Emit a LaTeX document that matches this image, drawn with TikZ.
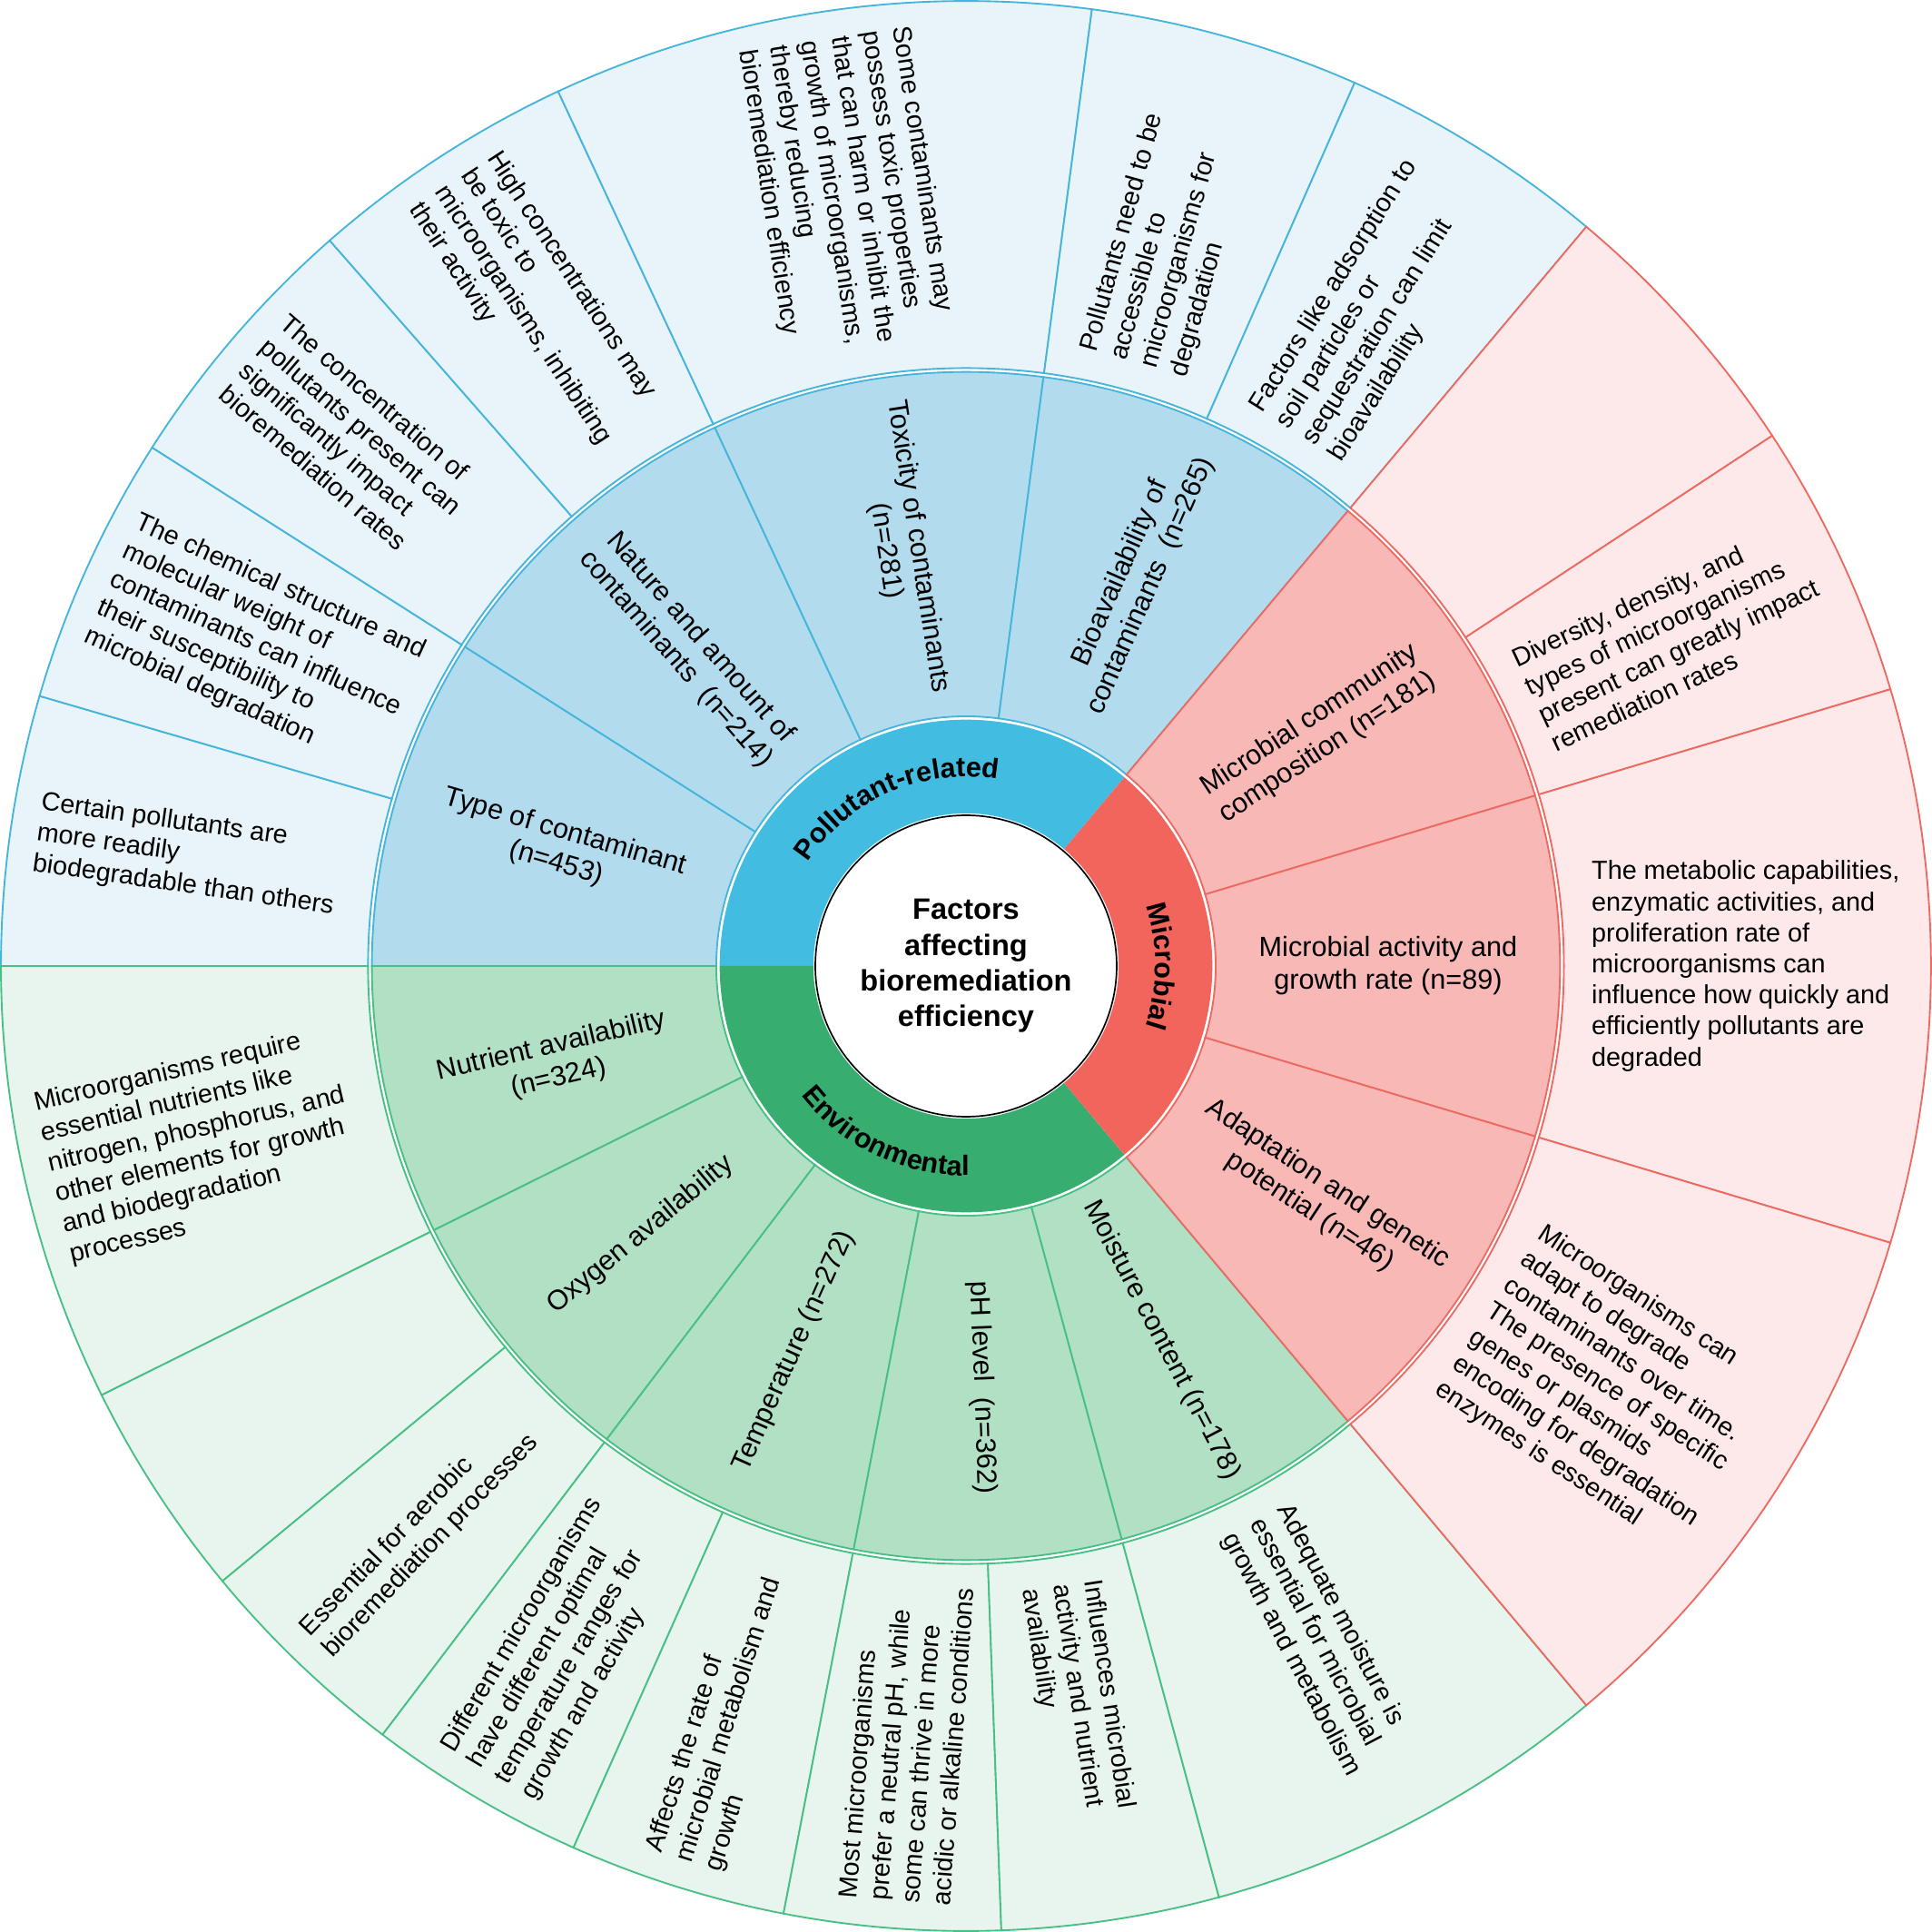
\documentclass[tikz,border=0pt]{standalone}
\usepackage{fontspec}
\setmainfont{Liberation Sans}
\usetikzlibrary{decorations.text}
\definecolor{catP}{HTML}{42BDE1}
\definecolor{midP}{HTML}{B2DCEE}
\definecolor{outP}{HTML}{E8F4F9}
\definecolor{lineP}{HTML}{45B5DB}
\definecolor{catM}{HTML}{F2655C}
\definecolor{midM}{HTML}{F7B8B6}
\definecolor{outM}{HTML}{FDE9E9}
\definecolor{lineM}{HTML}{EC6A62}
\definecolor{catE}{HTML}{37AE6F}
\definecolor{midE}{HTML}{B1E0C5}
\definecolor{outE}{HTML}{E8F5EE}
\definecolor{lineE}{HTML}{48BF85}
\newcommand{\mysector}[6]{%
  \draw[fill=#1, draw=#2, line width=0.5pt] (#3:#5) arc[start angle=#3, end angle=#4, radius=#5] -- (#4:#6) arc[start angle=#4, end angle=#3, radius=#6] -- cycle;}
\newcommand{\myring}[5]{%
  \fill[#1] (#2:#4) arc[start angle=#2, end angle=#3, radius=#4] -- (#3:#5) arc[start angle=#3, end angle=#2, radius=#5] -- cycle;}
\newcommand{\catfont}{\fontsize{8.2}{10}\selectfont\bfseries}
\tikzset{
  midlab/.style={align=center, font=\fontsize{8.2}{9.6}\selectfont, inner sep=0pt},
  outlab/.style={align=left, font=\fontsize{7.7}{9.15}\selectfont, inner sep=0pt, anchor=west},
  cenlab/.style={align=center, font=\fontsize{8.7}{10.5}\selectfont\bfseries, inner sep=0pt}
}
\begin{document}
\begin{tikzpicture}
\useasboundingbox (-10,-10) rectangle (10,10);
\fill[white] (-10,-10) rectangle (10,10);
% ---------- outer ring ----------
% pollutant
\mysector{outP}{lineP}{163.75}{180}{6.19}{9.99}
\mysector{outP}{lineP}{147.5}{163.75}{6.19}{9.99}
\mysector{outP}{lineP}{131.25}{147.5}{6.19}{9.99}
\mysector{outP}{lineP}{115}{131.25}{6.19}{9.99}
\mysector{outP}{lineP}{82.5}{115}{6.19}{9.99}
\mysector{outP}{lineP}{66.25}{82.5}{6.19}{9.99}
\mysector{outP}{lineP}{50}{66.25}{6.19}{9.99}
% environmental
\mysector{outE}{lineE}{180}{206.4}{6.19}{9.99}
\mysector{outE}{lineE}{206.4}{219.6}{6.19}{9.99}
\mysector{outE}{lineE}{219.6}{232.8}{6.19}{9.99}
\mysector{outE}{lineE}{232.8}{246}{6.19}{9.99}
\mysector{outE}{lineE}{246}{259.1}{6.19}{9.99}
\mysector{outE}{lineE}{259.1}{272.1}{6.19}{9.99}
\mysector{outE}{lineE}{272.1}{285.2}{6.19}{9.99}
\mysector{outE}{lineE}{285.2}{310}{6.19}{9.99}
% microbial
\mysector{outM}{lineM}{33.333}{50}{6.19}{9.99}
\mysector{outM}{lineM}{16.667}{33.333}{6.19}{9.99}
\mysector{outM}{lineM}{-16.667}{16.667}{6.19}{9.99}
\mysector{outM}{lineM}{-50}{-16.667}{6.19}{9.99}
% ---------- middle ring ----------
\mysector{midP}{lineP}{147.5}{180}{2.585}{6.15}
\mysector{midP}{lineP}{115}{147.5}{2.585}{6.15}
\mysector{midP}{lineP}{82.5}{115}{2.585}{6.15}
\mysector{midP}{lineP}{50}{82.5}{2.585}{6.15}
\mysector{midE}{lineE}{180}{206.4}{2.585}{6.15}
\mysector{midE}{lineE}{206.4}{232.8}{2.585}{6.15}
\mysector{midE}{lineE}{232.8}{259.1}{2.585}{6.15}
\mysector{midE}{lineE}{259.1}{285.2}{2.585}{6.15}
\mysector{midE}{lineE}{285.2}{310}{2.585}{6.15}
\mysector{midM}{lineM}{16.667}{50}{2.585}{6.15}
\mysector{midM}{lineM}{-16.667}{16.667}{2.585}{6.15}
\mysector{midM}{lineM}{-50}{-16.667}{2.585}{6.15}
% ---------- category ring ----------
\myring{catP}{50}{180}{1.58}{2.55}
\myring{catE}{180}{310}{1.58}{2.55}
\myring{catM}{-50}{50}{1.58}{2.55}
% ---------- centre ----------
\draw[fill=white, draw=black, line width=0.45pt] (0,0) circle[radius=1.56];
\node[cenlab] (centre) at (0,0) {Factors\\affecting\\bioremediation\\efficiency};
% category labels along arcs
\path[decorate, decoration={text along path, text align=center,
  text={|\catfont|Pollutant-related}}] (168.5:1.96) arc[start angle=168.5, end angle=58.5, radius=1.96];
\path[decorate, decoration={text along path, text align=center,
  text={|\catfont|Microbial}}] (55:1.96) arc[start angle=55, end angle=-55, radius=1.96];
\path[decorate, decoration={text along path, text align=center,
  text={|\catfont|Environmental}}] (189.5:2.17) arc[start angle=189.5, end angle=299.5, radius=2.17];
% ---------- middle labels ----------
\node[midlab, rotate=-16.25] (p1) at (163.75:4.37) {Type of contaminant\\(n=453)};
\node[midlab, rotate=-48.75] (p2) at (131.25:4.37) {Nature and amount of\\contaminants~~(n=214)};
\node[midlab, rotate=-81.25] (p3) at (98.75:4.37) {Toxicity of contaminants\\(n=281)};
\node[midlab, rotate=66.25] (p4) at (66.25:4.37) {Bioavailability of\\contaminants~~(n=265)};
\node[midlab, rotate=33.333] (m1) at (33.333:4.37) {Microbial community\\composition (n=181)};
\node[midlab, rotate=0] (m2) at (0:4.37) {Microbial activity and\\growth rate (n=89)};
\node[midlab, rotate=-33.333] (m3) at (-33.333:4.37) {Adaptation and genetic\\potential (n=46)};
\node[midlab, rotate=13.2] (e1) at (193.2:4.37) {Nutrient availability\\(n=324)};
\node[midlab, rotate=39.6] (e2) at (219.6:4.37) {Oxygen availability};
\node[midlab, rotate=65.95] (e3) at (245.95:4.37) {Temperature (n=272)};
\node[midlab, rotate=-87.85] (e4) at (272.15:4.37) {pH level~~(n=362)};
\node[midlab, rotate=-62.4] (e5) at (297.6:4.37) {Moisture content (n=178)};
% ---------- outer labels (line starts near one edge of the ring) ----------
\node[outlab, rotate=-8.125] (o1) at (171.875:9.72) {Certain pollutants are\\more readily\\biodegradable than others};
\node[outlab, rotate=-24.375] (o2) at (155.625:9.72) {The chemical structure and\\molecular weight of\\contaminants can influence\\their susceptibility to\\microbial degradation};
\node[outlab, rotate=-40.625] (o3) at (139.375:9.72) {The concentration of\\pollutants present can\\significantly impact\\bioremediation rates};
\node[outlab, rotate=-56.875] (o4) at (123.125:9.72) {High concentrations may\\be toxic to\\microorganisms, inhibiting\\their activity};
\node[outlab, rotate=-81.25] (o5) at (98.75:9.72) {Some contaminants may\\possess toxic properties\\that can harm or inhibit the\\growth of microorganisms,\\thereby reducing\\bioremediation efficiency};
\node[outlab, rotate=74.375] (o6) at (74.375:6.47) {Pollutants need to be\\accessible to\\microorganisms for\\degradation};
\node[outlab, rotate=58.125] (o7) at (58.125:6.47) {Factors like adsorption to\\soil particles or\\sequestration can limit\\bioavailability};
\node[outlab, rotate=25] (o8) at (25:6.47) {Diversity, density, and\\types of microorganisms\\present can greatly impact\\remediation rates};
\node[outlab, rotate=0] (o9) at (0:6.47) {The metabolic capabilities,\\enzymatic activities, and\\proliferation rate of\\microorganisms can\\influence how quickly and\\efficiently pollutants are\\degraded};
\node[outlab, rotate=-33.333] (o10) at (-33.333:6.47) {Microorganisms can\\adapt to degrade\\contaminants over time.\\The presence of specific\\genes or plasmids\\encoding for degradation\\enzymes is essential};
\node[outlab, rotate=13.2] (o11) at (193.2:9.72) {Microorganisms require\\essential nutrients like\\nitrogen, phosphorus, and\\other elements for growth\\and biodegradation\\processes};
\node[outlab, rotate=46.2] (o12) at (226.2:9.72) {Essential for aerobic\\bioremediation processes};
\node[outlab, rotate=59.4] (o13) at (239.4:9.72) {Different microorganisms\\have different optimal\\temperature ranges for\\growth and activity};
\node[outlab, rotate=72.55] (o14) at (252.55:9.72) {Affects the rate of\\microbial metabolism and\\growth};
\node[outlab, rotate=85.6] (o15) at (265.6:9.72) {Most microorganisms\\prefer a neutral pH, while\\some can thrive in more\\acidic or alkaline conditions};
\node[outlab, rotate=-81.35] (o16) at (278.65:6.47) {Influences microbial\\activity and nutrient\\availability};
\node[outlab, rotate=-62.4] (o17) at (297.6:6.47) {Adequate moisture is\\essential for microbial\\growth and metabolism};
\end{tikzpicture}
\end{document}
